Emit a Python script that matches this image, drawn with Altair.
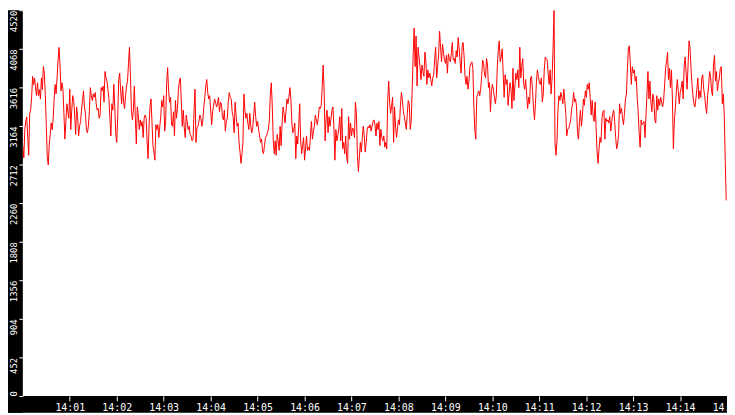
import altair as alt
import pandas as pd

# --- data (one reading per pixel column, left to right) ---
seg1 = [2930, 2790, 3120, 3220, 3270, 3030, 2820, 3310, 3350, 3500, 3745, 3650, 3725, 3610, 3520, 3670,
        3520, 3590, 3480, 3727, 3590, 3860, 3780, 3520, 3160, 2800, 2707, 2950, 3065, 3200, 3120, 3255,
        3480, 3650, 3540, 3727, 3934, 4085, 3878, 3575, 3670, 3594, 3311, 3010, 3217, 3424, 3330, 3254,
        3594, 3122, 3349, 3519, 3462, 3292, 3065, 3387, 3273, 3047, 3160, 3217, 3349, 3462, 3575, 3387,
        3311, 3122, 3084, 3160, 3330, 3613, 3519, 3462, 3538, 3500, 3556, 3424, 3349, 3368, 3254, 3292,
        3613, 3575, 3632, 3443, 3802, 3727, 3689, 3594, 3481, 3254, 3047, 3424, 3349, 3651, 3387, 3065,
        2971, 3273, 3708, 3783, 3575, 3424, 3632, 3443, 3368, 3519, 3632, 3689, 3896, 4085, 3745, 3349,
        3235, 3349, 3632, 3254, 2952, 3387, 3292, 3122, 3235, 3160, 3217, 3028, 3254]
seg2 = [3292, 3254, 2990, 2782, 3160, 3387, 3481, 3217, 2933, 2858, 2763, 3179, 3122, 3179, 3028, 3160,
        3273, 3462, 3387, 3519, 3103, 3217, 3670, 3847, 3575, 3443, 3500, 3179, 3160, 3330, 3047, 3462,
        3254, 3368, 3575, 3689, 3727, 3443, 3160, 3349, 3141, 3028, 3292, 3217, 3122, 3160, 3065, 3047,
        2990, 3009, 3330, 3594, 2971, 3141, 3160, 3217, 3292, 3254, 3160, 3235, 3387, 3500, 3632, 3708,
        3556, 3481, 3519, 3349, 3179, 3330, 3405, 3481, 3443, 3387, 3424, 3500, 3330, 3443, 3424, 3273,
        3235, 3349, 3103, 3217, 3254, 3443, 3556, 3500, 3481, 3330, 3273, 3084, 3443, 3292, 3160, 3198,
        2971, 2858, 2726, 2839, 2971, 3538, 3349, 3254, 3311, 3198, 3122, 3311, 3160, 3084, 3141, 3292,
        3443, 3273, 3160, 3217, 3122, 3047, 2971, 3009]
seg3 = [2877, 2839, 2933, 3028, 3047, 3084, 3122, 3235, 3538, 3670, 3387, 2990, 2839, 2990, 2820, 3065,
        2990, 2877, 3160, 2933, 3198, 3387, 3311, 3198, 3330, 3481, 3424, 3500, 3613, 3481, 3198, 3084,
        3122, 3198, 2782, 3047, 2952, 3160, 3424, 2990, 2839, 2933, 3028, 2763, 2896, 3047, 2877, 2914,
        2877, 3047, 3217, 3009, 3103, 3160, 3292, 3235, 3179, 3254, 3387, 3368, 3405, 3613, 3878, 3575,
        2990, 3254, 3349, 3084, 3273, 3160, 3254, 3349, 3387, 3141, 2763, 3122, 2990, 3047, 3141, 3273,
        2990, 3368, 2896, 2971, 2839, 3047, 2801, 2726, 3273, 3009, 3198, 3047, 3141, 3122, 3028, 3443,
        3311, 2820, 2631, 2801, 2971, 2858, 3028, 3160, 3047, 2858, 2971, 3122, 3160, 3141, 3179, 3103,
        3160, 3217, 3235, 3179, 3047, 3198, 3122, 3217]
seg4 = [2934, 3123, 3028, 2990, 3047, 2915, 2971, 2896, 3462, 3689, 3425, 3311, 3406, 3500, 2971, 3387,
        3160, 3028, 3142, 3236, 3179, 3406, 3557, 3462, 3330, 3274, 3198, 3123, 3311, 3462, 3425, 3123,
        3217, 3595, 3991, 4312, 3859, 4218, 3632, 4086, 3972, 3859, 3708, 3878, 3802, 3746, 4029, 3916,
        3651, 3821, 3727, 3783, 3708, 3632, 3727, 3765, 3953, 4086, 3727, 3859, 3991, 4275, 4086, 3916,
        4123, 4029, 3935, 3897, 3991, 3783, 4010, 3953, 3916, 4010, 4142, 3935, 3953, 3897, 4048, 3972,
        4199, 4067, 3916, 3783, 4086, 4142, 3991, 3746, 3651, 3746, 3595, 3689, 3859, 3897, 3916, 3840,
        3406, 3123, 3009, 3500, 3538, 3576, 3519, 3595, 3746, 3935, 3897, 3765, 3727, 3953, 3878, 3614,
        3670, 3330, 3576, 3651, 3595, 3500, 3425, 3519]
seg5 = [3859, 4048, 4161, 3916, 3972, 4067, 3783, 3500, 3765, 3651, 3708, 3406, 3538, 3670, 3595, 3368,
        3840, 3462, 3632, 3783, 3708, 3821, 3614, 4086, 3727, 3859, 3953, 3651, 3595, 3708, 3538, 3368,
        3500, 3425, 3727, 3746, 3576, 3387, 3236, 3425, 3689, 3821, 3746, 3670, 3651, 3727, 3444, 3538,
        3821, 3972, 3953, 3935, 3783, 3651, 3821, 3538, 3727, 4067, 4520, 2953, 2820, 2990, 3349, 3519,
        3462, 3557, 3500, 3425, 3595, 3462, 3311, 3047, 3123, 3142, 3179, 3236, 3368, 3425, 3557, 3444,
        3481, 3387, 3085, 3009, 3217, 3349, 3160, 3274, 3481, 3406, 3576, 3500, 3651, 3595, 3670, 3481,
        3293, 3462, 3274, 3217, 3444, 3142, 2858, 2726, 2896, 3028, 2971, 3255, 3330, 3349, 3009, 3255,
        3217, 3236, 3198, 3274, 3104, 3217, 3311, 3349]
seg6 = [3217, 3028, 2896, 2952, 3065, 3424, 3311, 3368, 3254, 3179, 3311, 3481, 3538, 3840, 4066, 4104,
        3878, 3651, 3859, 3783, 3821, 3689, 3745, 3500, 3330, 3084, 2915, 3235, 3179, 3198, 3217, 3028,
        3292, 3538, 3802, 3481, 3689, 3443, 3330, 3538, 3481, 3235, 3198, 3519, 3349, 3481, 3405, 3500,
        3443, 3387, 3462, 3632, 3840, 3915, 4029, 3708, 3840, 3613, 3821, 3481, 2896, 3235, 3368, 3575,
        3708, 3575, 3424, 3556, 3613, 3689, 3481, 3859, 3972, 3783, 3594, 3878, 4161, 4085, 3840, 3651,
        3519, 3424, 3387, 3481, 3594, 3727, 3481, 3575, 3500, 3727, 3764, 3594, 3519, 3387, 3311, 3519,
        3632, 3802, 3745, 3575, 3519, 3878, 3991, 3689, 3802, 3575, 3670, 3727, 3840, 3859, 3424, 3538,
        3292, 2763, 2291]

y_ticks = [0, 452, 904, 1356, 1808, 2260, 2712, 3164, 3616, 4068, 4520]
x_tick_minutes = list(range(1, 16))  # 14:01 ... 14:15

values = seg1 + seg2 + seg3 + seg4 + seg5 + seg6
n = len(values)
start = pd.Timestamp("2024-01-01 14:00:00")
step = pd.Timedelta(seconds=899) / (n - 1)
times = [(start + i * step).strftime("%Y-%m-%dT%H:%M:%S.%f")[:-3] for i in range(n)]
df = pd.DataFrame({"time": times, "value": values})

W, H, LEFT, BOTTOM = 712, 390, 15, 17


def dt(minute):
    return alt.DateTime(year=2024, month=1, date=1, hours=14, minutes=minute)


x_axis = alt.Axis(
    values=[dt(m) for m in x_tick_minutes], format="%H:%M", title=None, grid=False,
    domain=False, tickColor="white", tickSize=5, tickWidth=1,
    labelColor="white", labelFont="DejaVu Sans Mono", labelFontSize=10,
    labelPadding=2, labelFlush=False, labelOverlap=False, zindex=2,
)
y_axis = alt.Axis(
    values=y_ticks, format="d", title=None, grid=False, domain=False,
    tickColor="white", tickSize=4, tickWidth=1,
    labelColor="white", labelAngle=270,
    labelAlign=alt.condition("datum.value == 0", alt.value("left"), alt.value("right")),
    labelBaseline="alphabetic", labelPadding=2,
    labelFont="DejaVu Sans Mono", labelFontSize=9,
    labelFlush=False, labelOverlap=False, zindex=2,
)

# black frame strips (left axis band and bottom axis band)
frame = pd.DataFrame({"band": ["left", "bottom"]})
left_band = alt.Chart(frame).transform_filter("datum.band == 'left'").mark_rect(
    color="black", clip=False
).encode(x=alt.value(-LEFT), x2=alt.value(0), y=alt.value(0), y2=alt.value(H + BOTTOM))
bottom_band = alt.Chart(frame).transform_filter("datum.band == 'bottom'").mark_rect(
    color="black", clip=False
).encode(x=alt.value(-LEFT), x2=alt.value(W), y=alt.value(H), y2=alt.value(H + BOTTOM))

line = alt.Chart(df).mark_line(color="#ff0000", strokeWidth=1, clip=True).encode(
    x=alt.X("time:T", scale=alt.Scale(domain=[dt(0), dt(15)]), axis=x_axis),
    y=alt.Y("value:Q", scale=alt.Scale(domain=[0, 4520], nice=False, zero=True), axis=y_axis),
)

chart = (
    alt.layer(left_band, bottom_band, line)
    .properties(
        width=W,
        height=H,
        padding={"left": LEFT, "top": 0, "right": 0, "bottom": BOTTOM},
        autosize=alt.AutoSizeParams(type="none"),
        background="white",
    )
    .configure_view(fill="white", strokeWidth=0)
)

chart.save("out.html", embed_options={"renderer": "svg", "actions": False})
